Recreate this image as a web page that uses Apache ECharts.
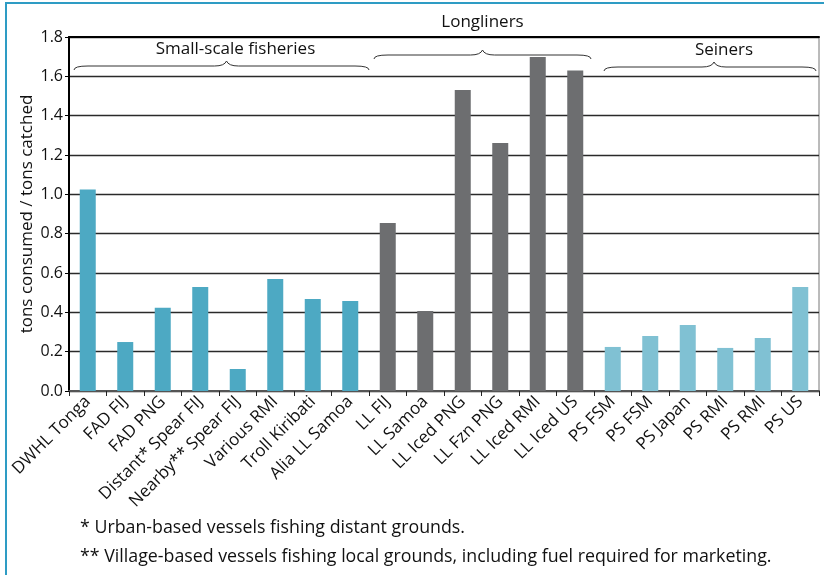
<!DOCTYPE html>
<html>
<head>
<meta charset="utf-8">
<script src="https://cdn.jsdelivr.net/npm/echarts@6/dist/echarts.min.js"></script>
<style>html,body{margin:0;padding:0;background:#fff}#c{width:824px;height:575px}</style>
</head>
<body>
<div id="c"></div>
<script>
// ---- data ----
const smallScaleCats = ['DWHL Tonga','FAD FIJ','FAD PNG','Distant* Spear FIJ','Nearby** Spear FIJ','Various RMI','Troll Kiribati','Alia LL Samoa'];
const smallScaleVals = [1.025, 0.249, 0.423, 0.529, 0.112, 0.569, 0.468, 0.458];
const longlinerCats = ['LL FIJ','LL Samoa','LL Iced PNG','LL Fzn PNG','LL Iced RMI','LL Iced US'];
const longlinerVals = [0.854, 0.407, 1.531, 1.261, 1.698, 1.630];
const seinerCats = ['PS FSM','PS FSM','PS Japan','PS RMI','PS RMI','PS US'];
const seinerVals = [0.224, 0.280, 0.336, 0.219, 0.270, 0.529];
const groupNames = ['Small-scale fisheries','Longliners','Seiners'];
const groupColors = ['#4DA9C3','#6D6E70','#80C1D3'];
const yTicks = [0,0.2,0.4,0.6,0.8,1.0,1.2,1.4,1.6,1.8];
const footnotes = ['* Urban-based vessels fishing distant grounds.','** Village-based vessels fishing local grounds, including fuel required for marketing.'];

const groups = [
  {name: groupNames[0], cats: smallScaleCats, vals: smallScaleVals, color: groupColors[0]},
  {name: groupNames[1], cats: longlinerCats, vals: longlinerVals, color: groupColors[1]},
  {name: groupNames[2], cats: seinerCats, vals: seinerVals, color: groupColors[2]}
];
const categories = [];
const barData = [];
const ranges = [];
groups.forEach(g => {
  const start = categories.length;
  g.cats.forEach((c, i) => {
    categories.push(c);
    barData.push({value: g.vals[i], itemStyle: {color: g.color}});
  });
  ranges.push([start, categories.length - 1]);
});

const FONT = '"Open Sans", sans-serif';
const chart = echarts.init(document.getElementById('c'), null, {renderer: 'canvas'});
const GRID = {left: 69, right: 5, top: 37, bottom: 184};

chart.setOption({
  animation: false,
  backgroundColor: '#fff',
  grid: {left: GRID.left, right: GRID.right, top: GRID.top, bottom: GRID.bottom, show: true, borderColor: '#777', borderWidth: 1},
  xAxis: [{
    type: 'category',
    data: categories,
    axisLine: {lineStyle: {color: '#555', width: 2}},
    axisTick: {show: true, length: 5, lineStyle: {color: '#222', width: 1}},
    axisLabel: {rotate: 45, interval: 0, fontSize: 17, color: '#111', fontFamily: FONT, margin: 8}
  }, {
    type: 'category',
    position: 'top',
    data: categories,
    axisLine: {show: true, lineStyle: {color: '#000', width: 2}},
    axisTick: {show: false},
    axisLabel: {show: false}
  }],
  yAxis: {
    type: 'value',
    min: 0, max: 1.8, interval: 0.2,
    name: 'tons consumed / tons catched',
    nameLocation: 'middle',
    nameGap: 33,
    nameMoveOverlap: false,
    nameTextStyle: {fontSize: 17, color: '#111', fontFamily: FONT},
    axisLine: {show: true, lineStyle: {color: '#000', width: 2}},
    axisTick: {show: true, length: 4, lineStyle: {color: '#000'}},
    axisLabel: {fontSize: 16, color: '#111', fontFamily: FONT, margin: 6,
      formatter: v => { const t = yTicks.find(x => Math.abs(x - v) < 1e-6); return (t === undefined ? v : t).toFixed(1); }},
    splitLine: {show: true, lineStyle: {color: '#2a2a2a', width: 1.3}}
  },
  series: [{
    type: 'bar',
    data: barData,
    barWidth: 16,
    xAxisIndex: 0
  }]
});

// ---- braces and annotations, positioned from the axis scale ----
function bandEdges(r) {
  const c0 = chart.convertToPixel({xAxisIndex: 0}, r[0]);
  const c1 = chart.convertToPixel({xAxisIndex: 0}, r[1]);
  const c2 = chart.convertToPixel({xAxisIndex: 0}, r[0] + 1);
  const half = (c2 - c0) / 2;
  return [c0 - half, c1 + half];
}
const braceStyle = {stroke: '#333', lineWidth: 1, fill: null};
function braceElems(x0, x1, xm, yb) {
  return [
    {type: 'bezierCurve', shape: {x1: x0, y1: yb + 4, x2: x0 + 14, y2: yb, cpx1: x0, cpy1: yb}, style: braceStyle},
    {type: 'line', shape: {x1: x0 + 14, y1: yb, x2: xm - 12, y2: yb}, style: braceStyle},
    {type: 'bezierCurve', shape: {x1: xm - 12, y1: yb, x2: xm, y2: yb - 5, cpx1: xm - 2, cpy1: yb}, style: braceStyle},
    {type: 'bezierCurve', shape: {x1: xm, y1: yb - 5, x2: xm + 12, y2: yb, cpx1: xm + 2, cpy1: yb}, style: braceStyle},
    {type: 'line', shape: {x1: xm + 12, y1: yb, x2: x1 - 14, y2: yb}, style: braceStyle},
    {type: 'bezierCurve', shape: {x1: x1 - 14, y1: yb, x2: x1, y2: yb + 4, cpx1: x1, cpy1: yb}, style: braceStyle}
  ];
}
const braceCfg = [
  {pad0: 5, pad1: 0, dx: 5, by: 66, ty: 49, tdx: 9},
  {pad0: 5, pad1: 3, dx: 0, by: 55, ty: 22, tdx: 0},
  {pad0: 10, pad1: 3, dx: 4, by: 67, ty: 50, tdx: 10}
];
const graphics = [];
ranges.forEach((r, i) => {
  const [e0, e1] = bandEdges(r);
  const cfg = braceCfg[i];
  const x0 = e0 + cfg.pad0, x1 = e1 - cfg.pad1;
  const xm = (x0 + x1) / 2 + cfg.dx;
  braceElems(x0, x1, xm, cfg.by).forEach(e => graphics.push(e));
  graphics.push({type: 'text', x: xm + cfg.tdx, y: cfg.ty, style: {text: groups[i].name, font: '17px ' + FONT, fill: '#111', textAlign: 'center', textVerticalAlign: 'middle'}});
});
footnotes.forEach((t, i) => {
  graphics.push({type: 'text', x: 80, y: 528 + i * 29, style: {text: t, font: '17.8px ' + FONT, fill: '#111', textAlign: 'left', textVerticalAlign: 'middle'}});
});
graphics.push({type: 'rect', shape: {x: 6, y: 3, width: 900, height: 700}, style: {stroke: '#2E9CC4', lineWidth: 2, fill: null}});
chart.setOption({graphic: graphics});
</script>
</body>
</html>
